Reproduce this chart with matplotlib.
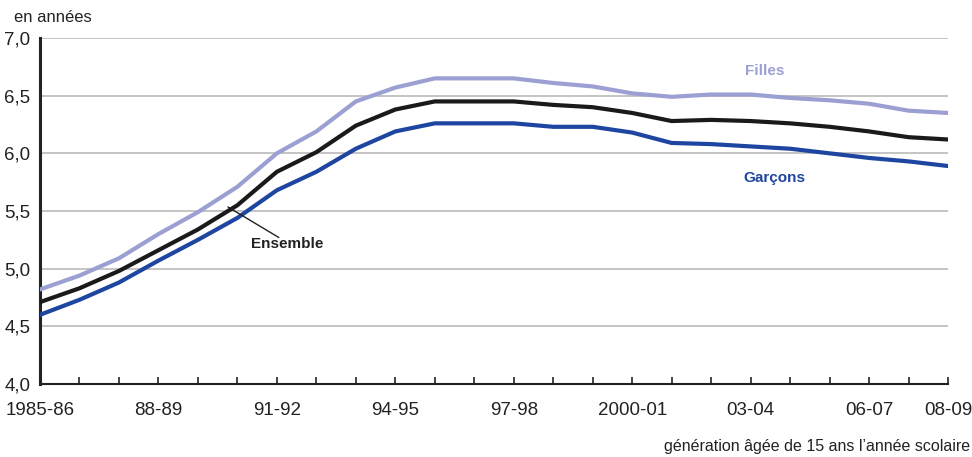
import matplotlib
matplotlib.use("Agg")
import matplotlib.pyplot as plt

# school years, 1985-86 .. 2008-09
years = list(range(24))
tick_pos = [0, 3, 6, 9, 12, 15, 18, 21, 23]
tick_labels = ["1985-86", "88-89", "91-92", "94-95", "97-98", "2000-01", "03-04", "06-07", "08-09"]

filles = [4.82, 4.94, 5.09, 5.30, 5.49, 5.71, 6.00, 6.19, 6.45, 6.57, 6.65, 6.65,
          6.65, 6.61, 6.58, 6.52, 6.49, 6.51, 6.51, 6.48, 6.46, 6.43, 6.37, 6.35]
ensemble = [4.71, 4.83, 4.98, 5.16, 5.34, 5.55, 5.84, 6.01, 6.24, 6.38, 6.45, 6.45,
            6.45, 6.42, 6.40, 6.35, 6.28, 6.29, 6.28, 6.26, 6.23, 6.19, 6.14, 6.12]
garcons = [4.60, 4.73, 4.88, 5.07, 5.25, 5.44, 5.68, 5.84, 6.04, 6.19, 6.26, 6.26,
           6.26, 6.23, 6.23, 6.18, 6.09, 6.08, 6.06, 6.04, 6.00, 5.96, 5.93, 5.89]

plt.rcParams['font.family'] = ['Liberation Sans', 'DejaVu Sans']

fig = plt.figure(figsize=(9.72, 4.57), dpi=100)
ax = fig.add_axes([40/972, 1-384/457, 908/972, 346/457])

c_filles = '#9c9fd2'
c_garcons = '#1e46a0'
c_ens = '#1a1a1a'
c_txt = '#222222'

ax.plot(years, filles, color=c_filles, lw=3.0, solid_joinstyle='round', zorder=3)
ax.plot(years, garcons, color=c_garcons, lw=3.0, solid_joinstyle='round', zorder=3)
ax.plot(years, ensemble, color=c_ens, lw=3.0, solid_joinstyle='round', zorder=4)

ax.set_xlim(0, 23)
ax.set_ylim(4.0, 7.0)
ax.set_yticks([4.0, 4.5, 5.0, 5.5, 6.0, 6.5, 7.0])
ax.set_yticklabels(["4,0", "4,5", "5,0", "5,5", "6,0", "6,5", "7,0"], fontsize=13.5, color=c_txt)
ax.set_xticks(years, minor=True)
ax.set_xticks(tick_pos)
ax.set_xticklabels(tick_labels, fontsize=13.5, color=c_txt)
ax.tick_params(axis='x', which='both', direction='in', length=5, width=1.2, pad=13, color=c_txt)
ax.tick_params(axis='y', length=0, pad=7)

for v in [4.5, 5.0, 5.5, 6.0, 6.5, 7.0]:
    ax.axhline(v, color='#c4c4c4', lw=1.4, zorder=1)

for s in ['top', 'right']:
    ax.spines[s].set_visible(False)
ax.spines['left'].set_linewidth(2.2)
ax.spines['left'].set_color(c_txt)
ax.spines['bottom'].set_linewidth(1.5)
ax.spines['bottom'].set_color(c_txt)

ax.text(18.35, 6.71, "Filles", color=c_filles, fontsize=11, fontweight='bold', ha='center', va='center')
ax.text(18.6, 5.79, "Garçons", color=c_garcons, fontsize=11, fontweight='bold', ha='center', va='center')
ax.text(6.26, 5.21, "Ensemble", color=c_txt, fontsize=11, fontweight='bold', ha='center', va='center')
ax.annotate("", xy=(4.76, 5.535), xytext=(6.05, 5.27),
            arrowprops=dict(arrowstyle='-', color=c_txt, lw=1.0, shrinkA=0, shrinkB=0))

fig.text(14/972, 1-17/457, "en années", fontsize=12, color=c_txt, ha='left', va='center')
fig.text(970/972, 1-446/457, "génération âgée de 15 ans l\u2019année scolaire", fontsize=11.5,
         color=c_txt, ha='right', va='center')

fig.savefig("out.png", dpi=100)
